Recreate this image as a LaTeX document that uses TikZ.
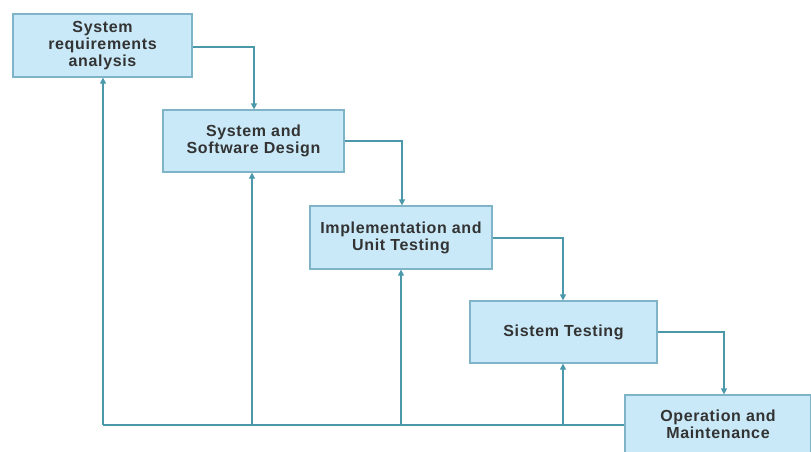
\documentclass[tikz,border=0pt]{standalone}
\usepackage{fontspec}
\setmainfont{Liberation Sans}[LetterSpace=4]
\usetikzlibrary{arrows.meta}
\definecolor{boxfill}{HTML}{C9E9F8}
\definecolor{boxline}{HTML}{7FB3C8}
\definecolor{conn}{HTML}{4A98AA}
\definecolor{txt}{HTML}{333333}
\tikzset{
  stagefont/.style={font=\fontsize{16}{16.8}\selectfont\bfseries, text=txt, align=center},
  stagebox/.style={draw=boxline, line width=1.2pt, fill=boxfill, inner sep=0pt, stagefont},
  flow/.style={draw=conn, line width=1.2pt, -{Triangle[length=6pt,width=6pt]}},
  back/.style={draw=conn, line width=1.2pt}
}
\begin{document}
\begin{tikzpicture}[x=1pt,y=-1pt]
\useasboundingbox (0,0) rectangle (811,452);
\node[stagebox, minimum width=179pt, minimum height=63pt] (a) at (102.5,45.5) {System\\requirements\\analysis};
\node[stagebox, minimum width=181pt, minimum height=62pt] (b) at (253.5,141) {System and\\Software Design};
\node[stagebox, minimum width=182pt, minimum height=63pt] (c) at (401,237.5) {Implementation and\\Unit Testing};
\node[stagebox, minimum width=187pt, minimum height=62pt] (d) at (563.5,332) {Sistem Testing};
\node[stagebox, minimum width=186pt, minimum height=90pt] (e) at (718,440) {};
\node[stagefont] (et) at (718,424) {Operation and\\Maintenance};
% forward flow
\draw[flow] (a.east |- 0,47) -| (b.north -| 254,0);
\draw[flow] (b.east |- 0,141) -| (c.north -| 402,0);
\draw[flow] (c.east |- 0,238) -| (d.north -| 563,0);
\draw[flow] (d.east |- 0,332) -| (e.north -| 724,0);
% feedback
\coordinate (base1) at (103,425);
\coordinate (base2) at (252,425);
\coordinate (base3) at (401,425);
\coordinate (base4) at (563,425);
\draw[back] (e.west |- base1) -- (base1);
\draw[flow] (base1) -- (a.south -| base1);
\draw[flow] (base2) -- (b.south -| base2);
\draw[flow] (base3) -- (c.south -| base3);
\draw[flow] (base4) -- (d.south -| base4);
\end{tikzpicture}
\end{document}
